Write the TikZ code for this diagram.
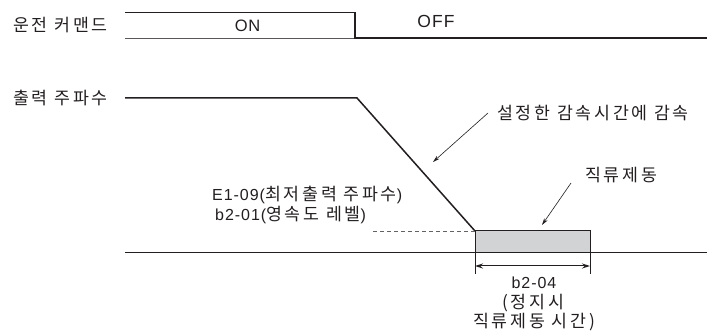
\documentclass[tikz,border=0pt]{standalone}
\usepackage{fontspec}
\setmainfont{Liberation Sans}[LetterSpace=6]
\newfontfamily\kr{Noto Sans CJK KR}[LetterSpace=16,Scale=1.08]
\usetikzlibrary{arrows.meta}
\definecolor{ink}{HTML}{231F20}
\definecolor{boxgray}{HTML}{D2D3D5}
\tikzset{
  lbl/.style={inner sep=0pt, text=ink, font=\fontsize{16}{19}\selectfont},
  sig/.style={draw=ink, line width=1.5pt},
  thinsig/.style={draw=ink!75, line width=0.9pt},
  base/.style={draw=ink, line width=1pt},
  callout/.style={draw=ink, line width=0.6pt, -{Stealth[length=7pt,width=4pt]}},
  dimline/.style={draw=ink, line width=1pt, {Stealth[length=8pt,width=5pt]}-{Stealth[length=8pt,width=5pt]}},
}
\begin{document}
\begin{tikzpicture}[x=1pt,y=-1pt]
\useasboundingbox (0,0) rectangle (707,331);
\fill[white] (0,0) rectangle (707,331);
% labels left
\node[lbl, anchor=west] (cmd) at (13,25.5) {\kr 운전 커맨드};
\node[lbl, anchor=west] (out) at (13,98) {\kr 출력 주파수};
% run command
\coordinate (c0) at (125,12.7);
\coordinate (c1) at (355,12.7);
\coordinate (c2) at (355,38);
\coordinate (c3) at (707,38);
\coordinate (cb) at (125,38);
\draw[thinsig] (cb) -- (c2);
\draw[sig, line join=miter] (c0) -- (c1) -- (c2) -- (c3);
\node[lbl, font=\fontsize{16.5}{19}\selectfont\addfontfeatures{LetterSpace=4}] (on) at (247.5,26) {ON};
\node[lbl, font=\fontsize{17.5}{20}\selectfont\addfontfeatures{LetterSpace=6}] (off) at (436,21.5) {OFF};
% output frequency
\coordinate (o0) at (125,98);
\coordinate (o1) at (357,98);
\coordinate (o2) at (475,231);
\draw[sig, line join=miter] (o0) -- (o1) -- (o2);
% DC braking box
\coordinate (b1) at (590,253);
\draw[fill=boxgray, draw=ink, line width=1pt] (o2) rectangle (b1);
% baseline
\coordinate (z0) at (125,253);
\coordinate (z1) at (707,253);
\draw[base] (z0) -- (z1);
% dashed min freq line
\coordinate (d0) at (373,231);
\draw[draw=ink!70, line width=0.9pt, dash pattern=on 4pt off 3pt] (d0) -- (o2);
% dimension
\coordinate (t0) at (475,274);
\coordinate (t1) at (590,274);
\coordinate (t0b) at (475,253);
\coordinate (t1b) at (590,253);
\draw[base] (t0b) -- (t0);
\draw[base] (t1b) -- (t1);
\coordinate (a0) at (475,266);
\coordinate (a1) at (590,266);
\draw[dimline] (a0) -- (a1);
\node[lbl] (b204) at (534,283) {b2-04};
\node[lbl] (stop) at (533,303) {\kr (정지시};
\node[lbl] (dctime) at (534,322) {\kr 직류제동 시간)};
% min freq labels
\node[lbl, anchor=west] (e109) at (212,195) {E1-09({\kr 최저출력 주파수})};
\node[lbl, anchor=west] (b201) at (215,215.5) {b2-01({\kr 영속도 레벨})};
% callouts
\node[lbl, anchor=west] (decel) at (497,113) {\kr 설정한 감속시간에 감속};
\node[lbl, anchor=west] (dcb) at (585,175) {\kr 직류제동};
\coordinate (p0) at (488,113);
\coordinate (p1) at (433,162);
\draw[callout] (p0) -- (p1);
\coordinate (q0) at (571,183);
\coordinate (q1) at (542,225);
\draw[callout] (q0) -- (q1);
\end{tikzpicture}
\end{document}
